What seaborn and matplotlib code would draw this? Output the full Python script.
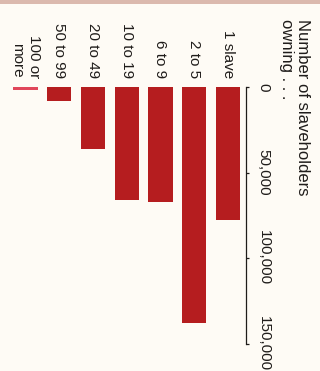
import matplotlib
matplotlib.use("Agg")
import matplotlib.pyplot as plt
from matplotlib.patches import Rectangle
import seaborn as sns

# Slaveholders by number of slaves owned
categories = ["1 slave", "2 to 5", "6 to 9", "10 to 19", "20 to 49", "50 to 99", "100 or\nmore"]
holders = [78000, 138000, 67000, 66000, 36400, 8200, 2000]
value_ticks = [0, 50000, 100000, 150000]
value_tick_labels = ["0", "50,000", "100,000", "150,000"]
title = "Number of slaveholders\nowning . . ."

bar_color = "#b51d1f"
top_color = "#e0465a"
paper = "#fefbf5"
ink = "#1f1c1a"

sns.set_theme(style="white")
plt.rcParams["font.family"] = ["Liberation Sans", "DejaVu Sans"]

fig = plt.figure(figsize=(3.2, 3.71), dpi=100, facecolor=paper)
ax = fig.add_axes([8.7 / 320, 1 - 343.5 / 371, 237.3 / 320, 256.5 / 371])
ax.set_facecolor(paper)

palette = {c: bar_color for c in categories}
palette[categories[-1]] = top_color
sns.barplot(x=categories, y=holders, hue=categories, palette=palette,
            order=categories, legend=False, width=0.72, saturation=1,
            ax=ax, linewidth=0)

# The chart is set on its side: values grow downward, categories run right to left
ax.set_ylim(150000, 0)
ax.set_xlim(6.5, -0.54)

for s in ["left", "top", "bottom"]:
    ax.spines[s].set_visible(False)
ax.spines["right"].set_visible(True)
ax.spines["right"].set_color(ink)
ax.spines["right"].set_linewidth(0.9)
ax.spines["right"].set_bounds(0, 150000)

ax.xaxis.tick_top()
ax.tick_params(axis="x", length=0, pad=6.5, labelsize=11, labelcolor=ink)
ax.set_xticks(range(len(categories)))
ax.set_xticklabels(categories)
for t in ax.get_xticklabels():
    t.set_rotation(-90)
    t.set_multialignment("right")
    t.set_va("bottom")
    t.set_ha("center")

ax.yaxis.tick_right()
ax.set_yticks(value_ticks)
ax.set_yticklabels(value_tick_labels)
ax.tick_params(axis="y", direction="out", length=2.5, width=0.9, color=ink,
               pad=5, labelsize=11, labelcolor=ink)
for t in ax.get_yticklabels():
    t.set_rotation(-90)
    t.set_va("center")
    t.set_ha("left")

ax.set_xlabel("")
ax.set_ylabel("")
ax.grid(False)

fig.text(310 / 320, 1 - 19 / 371, title, rotation=-90, ha="right", va="top",
         multialignment="left", fontsize=12, color=ink, linespacing=1.1)

# worn strip along the top edge of the page
fig.add_artist(Rectangle((0, 1 - 4 / 371), 1, 4 / 371, transform=fig.transFigure,
                         facecolor="#d3a99c", edgecolor="none", alpha=0.8))

fig.savefig("out.png", dpi=100, facecolor=paper)
